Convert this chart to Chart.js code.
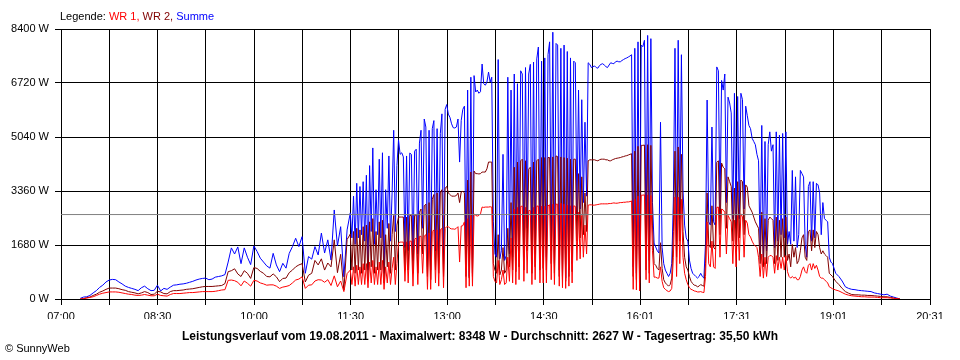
<!DOCTYPE html>
<html><head><meta charset="utf-8">
<script src="https://cdn.jsdelivr.net/npm/chart.js@4.4.1/dist/chart.umd.min.js"></script>
<style>
html,body{margin:0;padding:0;background:#fff;}
#wrap{position:relative;width:960px;height:360px;background:#fff;font-family:"Liberation Sans",Arial,sans-serif;font-size:11px;color:#000;overflow:hidden}
#legend{position:absolute;left:60px;top:10px;white-space:nowrap;line-height:13px}
#footer{position:absolute;left:0;width:960px;top:329px;text-align:center;font-weight:bold;font-size:12px;line-height:14px;white-space:nowrap}
#copy{position:absolute;left:5px;top:342px;line-height:13px;white-space:nowrap}
canvas{position:absolute;left:0;top:0}
</style></head>
<body>
<div id="wrap">
<canvas id="c" width="960" height="360" style="width:960px;height:360px"></canvas>
<div id="legend"></div>
<div id="footer"></div>
<div id="copy">© SunnyWeb</div>
</div>
<script>
// ---- sample times: minutes after 07:00 ----
// 07:18-11:30 every 3 min, 11:31:30-19:00 every 1.5 min, 19:03-20:03 every 3 min
const timeSegments = [
  { start: 18, step: 3, count: 85 },
  { start: 271.5, step: 1.5, count: 300 },
  { start: 723, step: 3, count: 21 }
];
const X_MAX = 811; // 07:00 .. 20:31
const xTickLabels = ['07:00','','08:30','','10:00','','11:30','','13:00','','14:30','','16:01','','17:31','','19:01','','20:31'];
const yMax = 8400;
const yStep = 1680;
const seriesNames = ['WR 1', 'WR 2', 'Summe'];
const seriesColors = ['#ff0000', '#800000', '#0000ff'];
const dateLabel = '19.08.2011';
const maxW = 8348;
const avgW = 2627;
const dayYield = '35,50';

const summe = [
 // 07:18-08:30
 20,60,70,110,190,260,360,430,530,590,610,600,530,470,400,360,330,300,260,350,400,320,260,270,430,
 // 08:33-10:00
 250,330,300,370,430,440,460,470,490,520,550,590,620,640,650,600,620,680,700,720,760,1150,1590,1400,1620,1100,1590,1300,1070,1650,
 // 10:03-11:30
 1480,1270,1150,1030,960,1420,1060,850,1110,960,1420,1630,1890,1630,1940,800,1320,1240,1630,1370,2050,1430,1840,1210,2770,1650,2250,690,2150,2680,
 // 11:31-12:15
 1900,3200,1700,3600,1900,3500,2000,3650,1800,3850,900,4150,2100,4700,1700,3400,2000,4350,1900,4550,800,3400,2200,4450,1800,3300,5250,2100,4150,4950,
 // 12:16-13:00
 4500,4550,4420,1600,4450,1500,4540,4500,1200,4600,4660,1400,4850,5250,2200,5600,5350,1000,5250,900,5300,5550,1500,5300,1300,5150,5760,1100,5900,6050,
 // 13:01-14:30
 5750,5650,5450,5330,5320,5350,5600,4260,5550,5900,
 6000,900,6500,700,6900,800,6950,6440,6500,6400,
 6450,7310,6700,6650,6750,7060,6750,6900,2400,1400,
 1300,7450,1250,1500,4500,1200,1350,6900,1400,6500,
 1300,7000,1200,6700,1500,7100,7000,1300,7200,2200,
 7000,7300,1100,7370,1400,7470,7840,1200,7400,1300,
 // 14:31-16:00
 7500,1300,7600,8000,1500,8300,1100,7950,7900,900,
 7800,700,7900,650,7700,900,7500,1100,7400,7350,
 2600,6500,2800,6200,3000,5500,3200,7350,7300,7200,
 7230,7250,7200,7180,7260,7300,7320,7280,7230,7200,
 7280,7350,7330,7320,7380,7400,7380,7380,7420,7450,
 7480,7500,7530,7560,7600,1000,7800,800,8000,700,
 // 16:01-17:30
 7900,7850,8050,1500,8200,1200,8100,3000,1740,1620,
 1500,1430,5500,1600,1100,900,800,700,800,1100,
 3080,7800,1800,8050,2500,7600,3390,2300,1900,1800,
 1210,950,800,750,700,650,700,800,700,650,
 1740,6190,2400,2300,5350,2400,2300,7220,7100,2600,
 6800,6500,7000,3000,6280,6100,5790,2500,6400,2200,
 // 17:31-19:00
 6300,2500,6400,6200,2800,6000,5700,5400,5300,5000,
 4900,4800,4500,4300,1400,5400,1300,4900,1500,4800,
 5200,4600,4800,1600,5200,1800,5100,2000,5150,1900,
 5200,1700,2100,1700,4000,1800,3800,1600,2000,4000,
 3900,3800,1700,1300,3500,3650,1800,3650,1900,3600,
 3550,3300,2000,3000,2500,2450,2400,1300,1150,1100,
 // 19:03-20:03
 800,700,560,380,330,300,290,270,260,250,240,230,190,170,150,130,150,90,60,30,0
];
const wr2 = [
 0,10,40,60,110,150,210,250,300,340,340,340,320,290,270,230,210,190,160,190,230,200,140,150,240,
 220,170,160,230,260,260,270,280,300,310,320,340,360,380,390,390,390,400,410,420,480,850,880,940,780,700,880,800,640,980,
 950,860,800,700,690,780,690,540,640,650,820,900,1000,1060,1100,530,740,800,1200,1060,1250,900,1120,1000,1840,820,1390,280,1850,2020,
 900,2100,800,2200,900,2150,800,2250,900,2300,600,2400,1000,2500,800,2100,900,2400,900,2450,500,2000,1000,2350,800,2000,2600,900,2300,2550,
 2550,2550,2550,900,2550,900,2600,2600,800,2600,2620,800,2700,2800,1400,2900,2950,700,3000,600,3100,3250,900,3300,800,3300,3400,700,3450,3500,
 3300,3250,3200,3200,3200,3220,3300,3000,3330,3350,
 3300,700,3700,650,3950,700,3980,3900,3900,3890,
 3900,3950,3950,3950,4050,4260,4260,4260,1100,900,
 800,2000,750,900,1600,800,900,2200,1000,3000,
 900,4100,850,4260,1000,4300,4350,900,4300,1500,
 4040,4100,800,4260,1000,4300,4350,900,4400,950,
 4400,900,4400,4400,1100,4420,800,4450,4430,700,
 4420,600,4400,550,4380,700,4350,850,4350,4350,
 1800,3900,1900,3800,2000,3300,2100,4300,4330,4330,
 4330,4330,4310,4300,4330,4350,4350,4350,4330,4330,
 4300,4300,4330,4350,4370,4380,4390,4400,4420,4430,
 4450,4460,4480,4500,4520,700,4600,600,4750,500,
 4780,4780,4790,900,4800,800,4780,2300,1100,1050,
 950,900,1750,950,600,500,450,400,450,650,
 2100,4600,1300,4730,1800,4500,2100,1300,1000,900,
 700,550,480,430,420,380,400,450,420,400,
 1100,3300,1700,1600,2900,1600,1550,4250,4300,2000,
 4230,4100,4050,2200,3800,3650,3500,1800,3450,1700,
 3650,1900,3700,3650,2000,3550,3480,2900,2800,2700,
 2550,2400,2300,2200,1100,2700,1000,2500,1100,2450,
 2550,2500,2450,1100,2550,1200,2450,1300,2500,1300,
 2550,1200,1400,1000,1700,1300,1600,1100,1200,1500,
 1900,2000,1300,1200,2100,2150,1500,2150,1600,2100,
 2000,1600,1400,1500,1400,1350,1300,800,750,700,
 550,450,330,230,180,140,130,130,120,120,110,110,100,90,80,70,70,50,30,10,0
];
const wr1 = [
 0,10,30,50,70,110,150,180,200,220,220,220,210,190,170,150,140,120,110,120,140,120,100,100,150,
 110,100,90,140,170,170,170,180,190,200,200,210,220,230,230,230,230,240,260,280,290,580,590,570,520,410,560,490,400,580,
 560,500,470,430,440,440,400,330,370,390,420,500,590,620,690,330,430,440,560,600,590,520,600,420,720,380,560,230,790,900,
 450,1000,400,1050,450,1000,450,1100,450,1100,350,1150,500,1200,450,1000,450,1150,450,1200,300,1000,500,1150,450,950,1300,450,1100,1750,
 1770,1770,1770,550,1780,500,1800,1800,400,1850,1900,450,1950,1950,800,1960,2000,300,2050,300,2100,2150,500,2150,400,2150,2200,350,2200,2250,
 2250,2200,2180,2180,2170,2200,2250,1150,2270,2280,
 2400,350,2500,400,2600,400,2650,2600,2580,2600,
 2650,2860,2850,2860,2860,2860,2870,2860,700,550,
 500,1200,450,600,900,450,500,1300,550,1900,
 500,2800,450,2850,600,2880,2890,550,2850,800,
 2750,2750,450,2850,600,2890,2890,500,2890,500,
 2890,500,2900,2930,600,2950,450,2950,2950,400,
 2980,350,2950,330,2920,400,2900,500,2900,2880,
 1200,2700,1250,2600,1300,2300,1400,2920,2930,2930,
 2920,2920,2930,2940,2950,2960,2960,2960,2960,2960,
 2970,2970,2980,2990,2980,2980,2990,3000,3000,3010,
 3010,3020,3020,3030,3050,300,3100,280,3200,250,
 3230,3230,3240,600,3240,500,3220,1500,680,680,
 650,650,1000,550,350,300,260,230,250,330,
 1300,3170,700,3170,1100,3100,1300,800,600,450,
 350,300,280,250,240,220,220,230,210,200,
 700,2400,1100,1000,1800,1000,950,2850,2860,1300,
 2800,2770,2700,1400,2600,2500,2400,1100,2450,1000,
 2600,1200,2650,2550,1300,2450,2360,2000,1930,1800,
 1700,1650,1600,1300,700,1400,650,1300,700,1300,
 1350,1350,1300,800,1350,900,1300,950,1300,900,
 1350,850,700,650,700,650,680,600,600,700,
 900,1000,850,800,1050,1100,900,1100,950,1050,
 900,700,650,650,600,550,500,380,350,320,
 280,250,200,150,120,100,90,80,70,70,60,60,60,50,40,40,40,30,20,10,0
];

// ---- texts ----
const legendEl = document.getElementById('legend');
legendEl.appendChild(document.createTextNode('Legende: '));
seriesNames.forEach((n, i) => {
  const s = document.createElement('span');
  s.style.color = seriesColors[i];
  s.textContent = n + (i < seriesNames.length - 1 ? ', ' : '');
  legendEl.appendChild(s);
});
document.getElementById('footer').textContent =
  'Leistungsverlauf vom ' + dateLabel + ' - Maximalwert: ' + maxW + ' W - Durchschnitt: ' + avgW + ' W - Tagesertrag: ' + dayYield + ' kWh';

// ---- chart ----
const times = [];
timeSegments.forEach(seg => { for (let i = 0; i < seg.count; i++) times.push(seg.start + i * seg.step); });
const toPoints = arr => arr.map((v, i) => ({ x: times[i], y: v }));
Chart.defaults.font.family = '"Liberation Sans", Arial, sans-serif';
Chart.defaults.font.size = 11;
Chart.defaults.color = '#000';

const line = (label, data, color) => ({
  label, data, borderColor: color, backgroundColor: color,
  borderWidth: 1, pointRadius: 0, tension: 0, fill: false
});

new Chart(document.getElementById('c'), {
  type: 'line',
  data: {
    datasets: [
      line('Durchschnitt', [{ x: 0, y: avgW }, { x: X_MAX, y: avgW }], '#808080'),
      line(seriesNames[0], toPoints(wr1), seriesColors[0]),
      line(seriesNames[1], toPoints(wr2), seriesColors[1]),
      line(seriesNames[2], toPoints(summe), seriesColors[2])
    ]
  },
  options: {
    responsive: false,
    animation: false,
    devicePixelRatio: 1,
    layout: { padding: { left: 0, right: 30, top: 29, bottom: 41 } },
    plugins: { legend: { display: false }, tooltip: { enabled: false }, title: { display: false } },
    scales: {
      x: {
        type: 'linear', min: 0, max: X_MAX, z: 1,
        afterBuildTicks: s => { s.ticks = xTickLabels.map((_, i) => ({ value: i * X_MAX / (xTickLabels.length - 1) })); },
        afterFit: s => { s.height = 20; s.paddingLeft = 0; s.paddingRight = 0; },
        ticks: { autoSkip: false, maxRotation: 0, padding: 5, color: '#000', callback: (v, i) => xTickLabels[i] },
        grid: { color: '#000', lineWidth: 1, tickLength: 6, drawTicks: true },
        border: { display: true, color: '#000', width: 1 }
      },
      y: {
        type: 'linear', min: 0, max: yMax, z: 1,
        afterFit: s => { s.width = 61; s.paddingTop = 0; s.paddingBottom = 0; },
        ticks: { stepSize: yStep, padding: 6, color: '#000', callback: v => v + ' W' },
        grid: { color: '#000', lineWidth: 1, tickLength: 6, drawTicks: true },
        border: { display: true, color: '#000', width: 1 }
      }
    }
  }
});
</script>
</body></html>
